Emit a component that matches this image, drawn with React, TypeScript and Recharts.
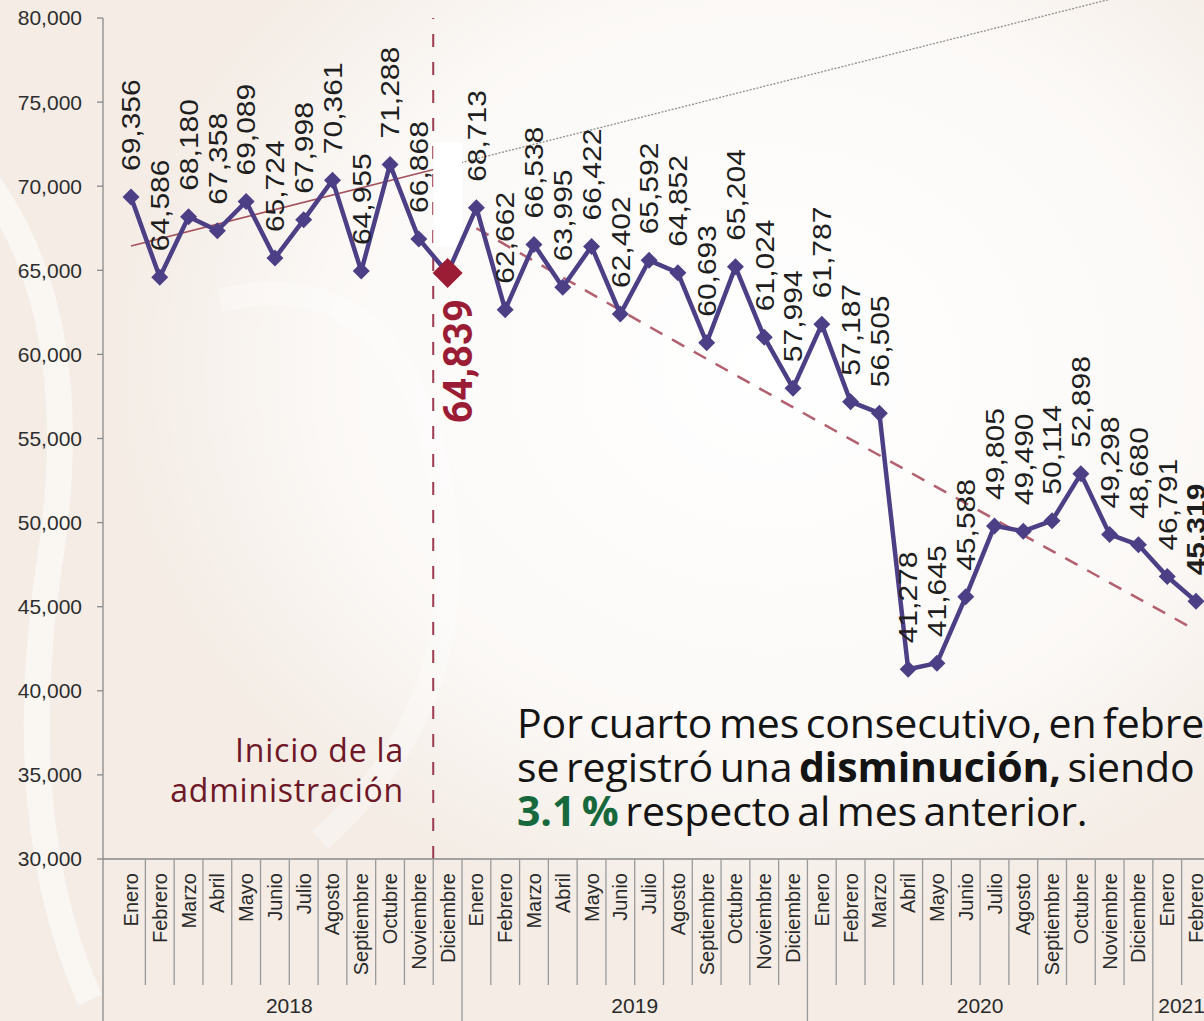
import React from 'react';
import {
  LineChart,
  Line,
  XAxis,
  YAxis,
  ReferenceLine,
  ReferenceArea,
  LabelList,
} from 'recharts';

const months = ['Enero', 'Febrero', 'Marzo', 'Abril', 'Mayo', 'Junio', 'Julio', 'Agosto', 'Septiembre', 'Octubre', 'Noviembre', 'Diciembre'];
const years = ['2018', '2019', '2020', '2021'];

const values2018 = [69356, 64586, 68180, 67358, 69089, 65724, 67998, 70361, 64955, 71288, 66868, 64839];
const values2019 = [68713, 62662, 66538, 63995, 66422, 62402, 65592, 64852, 60693, 65204, 61024, 57994];
const values2020 = [61787, 57187, 56505, 41278, 41645, 45588, 49805, 49490, 50114, 52898, 49298, 48680];
const values2021 = [46791, 45319];

const yTicks = [30000, 35000, 40000, 45000, 50000, 55000, 60000, 65000, 70000, 75000, 80000];

// trend lines as [month key, value]
const trend2018 = [['2018-0', 66450], ['2018-11', 71200]];
const trendProjection = [['2018-11', 71200], ['2021-1', 82400]];
const trendDecline = [['2019-0', 67500], ['2019-6', 61650], ['2020-0', 55900], ['2020-6', 50200], ['2021-1', 43600]];

const startKey = '2018-11'; // inicio de la administración

const series = [values2018, values2019, values2020, values2021];
const data = years.flatMap((year, yi) =>
  series[yi].map((value, mi) => ({ key: `${year}-${mi}`, month: months[mi], year, mi, value }))
);

const trendData = data.map((d) => {
  const a = trend2018.find((t) => t[0] === d.key);
  const b = trendDecline.find((t) => t[0] === d.key);
  return { ...d, trend2018: a ? a[1] : null, decline: b ? b[1] : null };
});

const startIndex = data.findIndex((d) => d.key === startKey);
const lastIndex = data.length - 1;

const CHART_W = 1224;
const CHART_H = 1021;
const Y_W = 103;
const PAD = 13.6;
const BAND = (CHART_W - Y_W - 2 * PAD) / data.length;

const ARIAL = '"Liberation Sans", Arial, sans-serif';
const fmt = (v: number) => v.toLocaleString('en-US');

const MonthTick = (props: any) => {
  const { x, y, index } = props;
  const d = data[index];
  if (!d) return null;
  const half = BAND / 2;
  const yearCount = data.filter((e) => e.year === d.year).length;
  const yearEnd = d.mi === 11 || index === lastIndex;
  return (
    <g>
      <text
        x={x + 7}
        y={y + 14}
        transform={`rotate(-90, ${x + 7}, ${y + 14})`}
        textAnchor="end"
        fontFamily={ARIAL}
        fontSize={20}
        fill="#2a2a2a"
      >
        {d.month}
      </text>
      <line
        x1={x + half}
        x2={x + half}
        y1={y}
        y2={yearEnd ? CHART_H : y + 126}
        stroke="#9a9a9a"
        strokeWidth={1.3}
      />
      {index === 0 && (
        <line x1={x - half - PAD} x2={x - half - PAD} y1={y} y2={CHART_H} stroke="#8a8a8a" strokeWidth={1.3} />
      )}
      {d.mi === 0 && (
        <text
          x={x - half + (yearCount * BAND) / 2}
          y={y + 154}
          textAnchor="middle"
          fontFamily={ARIAL}
          fontSize={21}
          fill="#2a2a2a"
        >
          {d.year}
        </text>
      )}
    </g>
  );
};

const renderDot = (props: any) => {
  const { cx, cy, index } = props;
  if (cx == null || cy == null) return <g key={index} />;
  const special = index === startIndex;
  const r = special ? 15 : 8.5;
  return (
    <path
      key={index}
      d={`M${cx},${cy - r}L${cx + r},${cy}L${cx},${cy + r}L${cx - r},${cy}Z`}
      fill={special ? '#9b1d35' : '#4d3f85'}
    />
  );
};

const renderValueLabel = (props: any) => {
  const { x, y, value, index } = props;
  if (index === startIndex) {
    const tx = x + 10;
    const ty = y + 26;
    return (
      <text
        x={tx}
        y={ty}
        dy="0.36em"
        transform={`rotate(-90, ${tx}, ${ty})`}
        textAnchor="end"
        fontFamily="Roboto, sans-serif"
        fontWeight={700}
        fontSize={40}
        fill="#9b1d35"
      >
        {fmt(value)}
      </text>
    );
  }
  const ty = y - 26;
  return (
    <text
      x={0}
      y={0}
      dy="0.36em"
      transform={`translate(${x}, ${ty}) rotate(-90) scale(1, 0.86)`}
      textAnchor="start"
      fontFamily={ARIAL}
      fontWeight={index === lastIndex ? 700 : 400}
      fontSize={30}
      fill="#1e1e1e"
    >
      {fmt(value)}
    </text>
  );
};

const Background = () => (
  <svg width={1204} height={1021} style={{ position: 'absolute', left: 0, top: 0 }}>
    <defs>
      <radialGradient id="glow" cx="0.64" cy="0.36" r="0.55">
        <stop offset="0%" stopColor="#ffffff" stopOpacity={1} />
        <stop offset="65%" stopColor="#ffffff" stopOpacity={0.7} />
        <stop offset="100%" stopColor="#ffffff" stopOpacity={0} />
      </radialGradient>
    </defs>
    <rect width={1204} height={1021} fill="#f4ece5" />
    <rect width={1204} height={1021} fill="url(#glow)" />
    <path d="M-30,160 Q90,300 50,560 T90,1000" stroke="#ffffff" strokeOpacity={0.5} strokeWidth={26} fill="none" />
    <path d="M220,300 Q400,260 440,480 T320,840" stroke="#ffffff" strokeOpacity={0.3} strokeWidth={24} fill="none" />
  </svg>
);

export default function App() {
  return (
    <div style={{ position: 'absolute', left: 0, top: 0, width: 1204, height: 1021, overflow: 'hidden' }}>
      <Background />
      <div style={{ position: 'absolute', left: 0, top: 0 }}>
        <LineChart width={CHART_W} height={CHART_H} data={trendData} margin={{ top: 18, right: 0, bottom: 0, left: 0 }}>
          <XAxis
            dataKey="key"
            scale="band"
            interval={0}
            padding={{ left: PAD, right: PAD }}
            height={CHART_H - 859}
            tickSize={0}
            tickMargin={0}
            tickLine={false}
            axisLine={{ stroke: '#8a8a8a', strokeWidth: 1.3 }}
            tick={<MonthTick />}
          />
          <YAxis
            width={Y_W}
            domain={[30000, 80000]}
            ticks={yTicks}
            tickFormatter={fmt}
            tickSize={6}
            tickMargin={15}
            axisLine={{ stroke: '#8a8a8a', strokeWidth: 1.3 }}
            tickLine={{ stroke: '#8a8a8a', strokeWidth: 1.3 }}
            tick={{ fontFamily: ARIAL, fontSize: 21, fill: '#2e2e2e' }}
          />
          <ReferenceLine
            x={startKey}
            position="start"
            stroke="#9b3a50"
            strokeWidth={2}
            strokeDasharray="13 15"
          />
          <ReferenceLine
            segment={trendProjection.map((t) => ({ x: t[0], y: t[1] }))}
            ifOverflow="visible"
            stroke="#8f8f8f"
            strokeWidth={1.3}
            strokeDasharray="2 1.5"
          />
          <Line
            dataKey="trend2018"
            stroke="#a4525e"
            strokeWidth={1.6}
            dot={false}
            connectNulls
            isAnimationActive={false}
          />
          <Line
            dataKey="decline"
            stroke="#b2606f"
            strokeWidth={2.5}
            strokeDasharray="14 11"
            dot={false}
            connectNulls
            isAnimationActive={false}
          />
          <ReferenceArea
            x1={startKey}
            x2={startKey}
            y1={66400}
            y2={72600}
            fill="#ffffff"
            fillOpacity={1}
            stroke="none"
            ifOverflow="visible"
            zIndex={450}
          />
          <Line
            dataKey="value"
            stroke="#4d3f85"
            strokeWidth={4.5}
            dot={renderDot}
            activeDot={false}
            isAnimationActive={false}
            zIndex={500}
          >
            <LabelList dataKey="value" content={renderValueLabel} />
          </Line>
        </LineChart>
      </div>
      <div
        style={{
          position: 'absolute',
          right: 1204 - 404,
          top: 730,
          textAlign: 'right',
          fontFamily: '"Open Sans", sans-serif',
          fontSize: 32,
          lineHeight: '40px',
          letterSpacing: 0.8,
          color: '#6d1727',
          whiteSpace: 'nowrap',
        }}
      >
        <div>Inicio de la</div>
        <div>administración</div>
      </div>
      <div
        style={{
          position: 'absolute',
          left: 517,
          top: 700,
          fontFamily: '"Open Sans", sans-serif',
          fontSize: 41,
          lineHeight: '44px',
          wordSpacing: -4,
          letterSpacing: -0.1,
          color: '#141414',
          whiteSpace: 'nowrap',
        }}
      >
        <div>Por cuarto mes consecutivo, en febrero</div>
        <div>
          se registró una <b>disminución,</b> siendo
        </div>
        <div>
          <b style={{ color: '#17693d' }}>3.1 %</b> respecto al mes anterior.
        </div>
      </div>
    </div>
  );
}
